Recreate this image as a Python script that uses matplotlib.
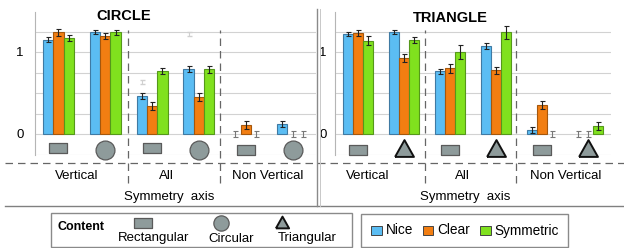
import matplotlib
matplotlib.use("Agg")
import matplotlib.pyplot as plt
from matplotlib.lines import Line2D
from matplotlib.patches import Rectangle

plt.rcParams['font.family'] = ['Liberation Sans', 'DejaVu Sans']

W, H = 624, 248

series = ['Nice', 'Clear', 'Symmetric']
colors = ['#5BBDF3', '#F27E12', '#80E11E']
edges = ['#3F7AA3', '#A5570C', '#55981A']
groups = ['Vertical', 'All', 'Non Vertical']
positions = [0, 1, 2, 3, 4, 5]

# order: Vertical(rect, shape), All(rect, shape), Non Vertical(rect, shape)
circle_vals = {
    'Nice':      [1.15, 1.24, 0.46, 0.79, 0.00, 0.12],
    'Clear':     [1.24, 1.195, 0.34, 0.455, 0.11, 0.00],
    'Symmetric': [1.17, 1.24, 0.77, 0.79, 0.00, 0.00],
}
circle_errs = {
    'Nice':      [0.03, 0.025, 0.035, 0.035, 0.035, 0.04],
    'Clear':     [0.04, 0.04, 0.045, 0.05, 0.05, 0.04],
    'Symmetric': [0.035, 0.03, 0.037, 0.04, 0.035, 0.04],
}
triangle_vals = {
    'Nice':      [1.22, 1.24, 0.765, 1.07, 0.045, 0.00],
    'Clear':     [1.235, 0.93, 0.80, 0.775, 0.35, 0.00],
    'Symmetric': [1.14, 1.15, 1.00, 1.24, 0.00, 0.10],
}
triangle_errs = {
    'Nice':      [0.025, 0.025, 0.03, 0.035, 0.037, 0.04],
    'Clear':     [0.035, 0.05, 0.05, 0.04, 0.05, 0.04],
    'Symmetric': [0.055, 0.035, 0.08, 0.08, 0.04, 0.05],
}
# faint leftover error marks in the CIRCLE / All group
ghost_pos = [2, 3]
ghost_vals = [0.63, 1.22]

circle_icons = ['rect', 'circle', 'rect', 'circle', 'rect', 'circle']
triangle_icons = ['rect', 'tri', 'rect', 'tri', 'rect', 'tri']
content_names = ['Rectangular', 'Circular', 'Triangular']
content_icons = ['rect', 'circle', 'tri']

icon_gray = '#8E9B9B'
rect_marker = [(-1, -0.58), (1, -0.58), (1, 0.58), (-1, 0.58), (-1, -0.58)]
tri_marker = [(-1, -0.89), (1, -0.89), (0, 0.89), (-1, -0.89)]
icon_style = {
    'rect': dict(marker=rect_marker, markersize=13, markeredgecolor='#5A5A5A', markeredgewidth=0.9),
    'circle': dict(marker='o', markersize=13.6, markeredgecolor='#5A5A5A', markeredgewidth=0.9),
    'tri': dict(marker=tri_marker, markersize=13.6, markeredgecolor='#111111', markeredgewidth=1.4),
}


def fx(px):
    return px / W


def fy(py):
    return 1 - py / H


fig = plt.figure(figsize=(W / 100, H / 100), dpi=100)

ytop, ybot = 12, 155
ymin, ymax = -21 / 82, 122 / 82


def panel(x0, x1, vals, errs, icons, icon_y, title, title_xy, label_x, dash_x, pad):
    ax = fig.add_axes([fx(x0), fy(ybot), (x1 - x0) / W, (ybot - ytop) / H])
    ax.set_xlim(-0.5, 5.5)
    ax.set_ylim(ymin, ymax)
    for g in [-0.25, 0, 0.25, 0.5, 0.75, 1.0, 1.25]:
        ax.axhline(g, color='#D2D2D2', lw=0.8, zorder=0)
    for s in ['top', 'right', 'bottom']:
        ax.spines[s].set_visible(False)
    ax.spines['left'].set_color('#B5B5B5')
    ax.spines['left'].set_linewidth(0.8)
    ax.set_xticks([])
    ax.set_yticks([0, 1])
    ax.set_yticklabels(['0', '1'])
    ax.tick_params(axis='y', length=0, pad=pad, labelsize=9.5)

    w = 0.22
    for k, name in enumerate(series):
        off = (k - 1) * w
        for p, v, e in zip(positions, vals[name], errs[name]):
            if v > 0:
                ax.bar(p + off, v, width=w, color=colors[k], edgecolor=edges[k],
                       linewidth=0.8, zorder=2)
                ax.errorbar(p + off, v, yerr=e, color='#222222', lw=0.8,
                            capsize=1.8, capthick=0.8, zorder=3)
            else:
                # no bar, only a grey error mark at zero
                ax.errorbar(p + off, v, yerr=e, color='#777777', lw=0.8,
                            capsize=1.8, capthick=0.8, zorder=3)

    for p, ic, iy in zip(positions, icons, icon_y):
        ax.plot([p], [iy], color=icon_gray, clip_on=False, zorder=4, **icon_style[ic])

    for d in dash_x:
        ax.plot([d, d], [-0.196, 0.874], transform=ax.get_xaxis_transform(),
                color='#666666', lw=0.9, ls=(0, (6, 4)), clip_on=False)

    for lx, g in zip(label_x, groups):
        ax.text(lx, -0.147, g, transform=ax.get_xaxis_transform(),
                ha='center', va='center', fontsize=9.5)

    fig.text(fx(title_xy[0]), fy(title_xy[1]), title, ha='center', va='center',
             fontsize=10.5, fontweight='bold')
    return ax


ax1 = panel(35, 316, circle_vals, circle_errs, circle_icons,
            [-0.165, -0.19, -0.165, -0.19, -0.2, -0.19],
            'CIRCLE', (124, 16), [0.39, 2.31, 4.46], [1.49, 3.45], 8)
ax1.errorbar([p - 0.22 for p in ghost_pos], ghost_vals, yerr=0.025, fmt='none',
             ecolor='#D0D0D0', lw=0.8, capsize=1.8, zorder=3)

ax2 = panel(335, 611, triangle_vals, triangle_errs, triangle_icons,
            [-0.195, -0.175, -0.195, -0.175, -0.195, -0.175],
            'TRIANGLE', (450, 18), [0.22, 2.26, 4.52], [1.46, 3.44], 6)

# frame lines
fig.add_artist(Line2D([fx(5), fx(624)], [fy(163), fy(163)], color='#666666',
                      lw=0.9, ls=(0, (6, 4))))
fig.add_artist(Line2D([fx(5), fx(624)], [fy(206), fy(206)], color='#808080', lw=1.0))
fig.add_artist(Line2D([fx(316.5), fx(316.5)], [fy(9), fy(206)], color='#8A8A8A', lw=1.0))
fig.add_artist(Line2D([fx(319.5), fx(319.5)], [fy(9), fy(206)], color='#C8C8C8', lw=0.7))

fig.text(fx(169), fy(197), 'Symmetry  axis', ha='center', va='center', fontsize=9.5)
fig.text(fx(465), fy(197), 'Symmetry  axis', ha='center', va='center', fontsize=9.5)

# content legend
fig.add_artist(Rectangle((fx(50.5), fy(247)), (352 - 50.5) / W, (247 - 212.5) / H,
                         transform=fig.transFigure, fill=False, ec='#8A8A8A', lw=1.0))
fig.text(fx(58), fy(226.5), 'Content', ha='left', va='center', fontsize=9, fontweight='bold')
content_icon_xy = [(143, 222.8), (220.5, 223), (282, 221.8)]
content_text_xy = [(154, 238.3), (231, 239.5), (307, 237.8)]
for name, ic, (ix, iy), (tx, ty) in zip(content_names, content_icons,
                                        content_icon_xy, content_text_xy):
    st = dict(icon_style[ic])
    st['markersize'] = {'rect': 13, 'circle': 11, 'tri': 9.5}[ic]
    fig.add_artist(Line2D([fx(ix)], [fy(iy)], transform=fig.transFigure,
                          color=icon_gray, **st))
    fig.text(fx(tx), fy(ty), name, ha='center', va='center', fontsize=9.5)

# series legend
fig.add_artist(Rectangle((fx(361), fy(247)), (568 - 361) / W, (247 - 213.5) / H,
                         transform=fig.transFigure, fill=False, ec='#8A8A8A', lw=1.0))
sq_x = [371, 422.5, 480]
for k, name in enumerate(series):
    fig.add_artist(Rectangle((fx(sq_x[k]), fy(235)), 10.5 / W, 9.3 / H,
                             transform=fig.transFigure, fc=colors[k], ec='#444444', lw=0.7))
    fig.text(fx(sq_x[k] + 14.5), fy(230.5), name, ha='left', va='center', fontsize=9.8)

fig.savefig('out.png', dpi=100)
